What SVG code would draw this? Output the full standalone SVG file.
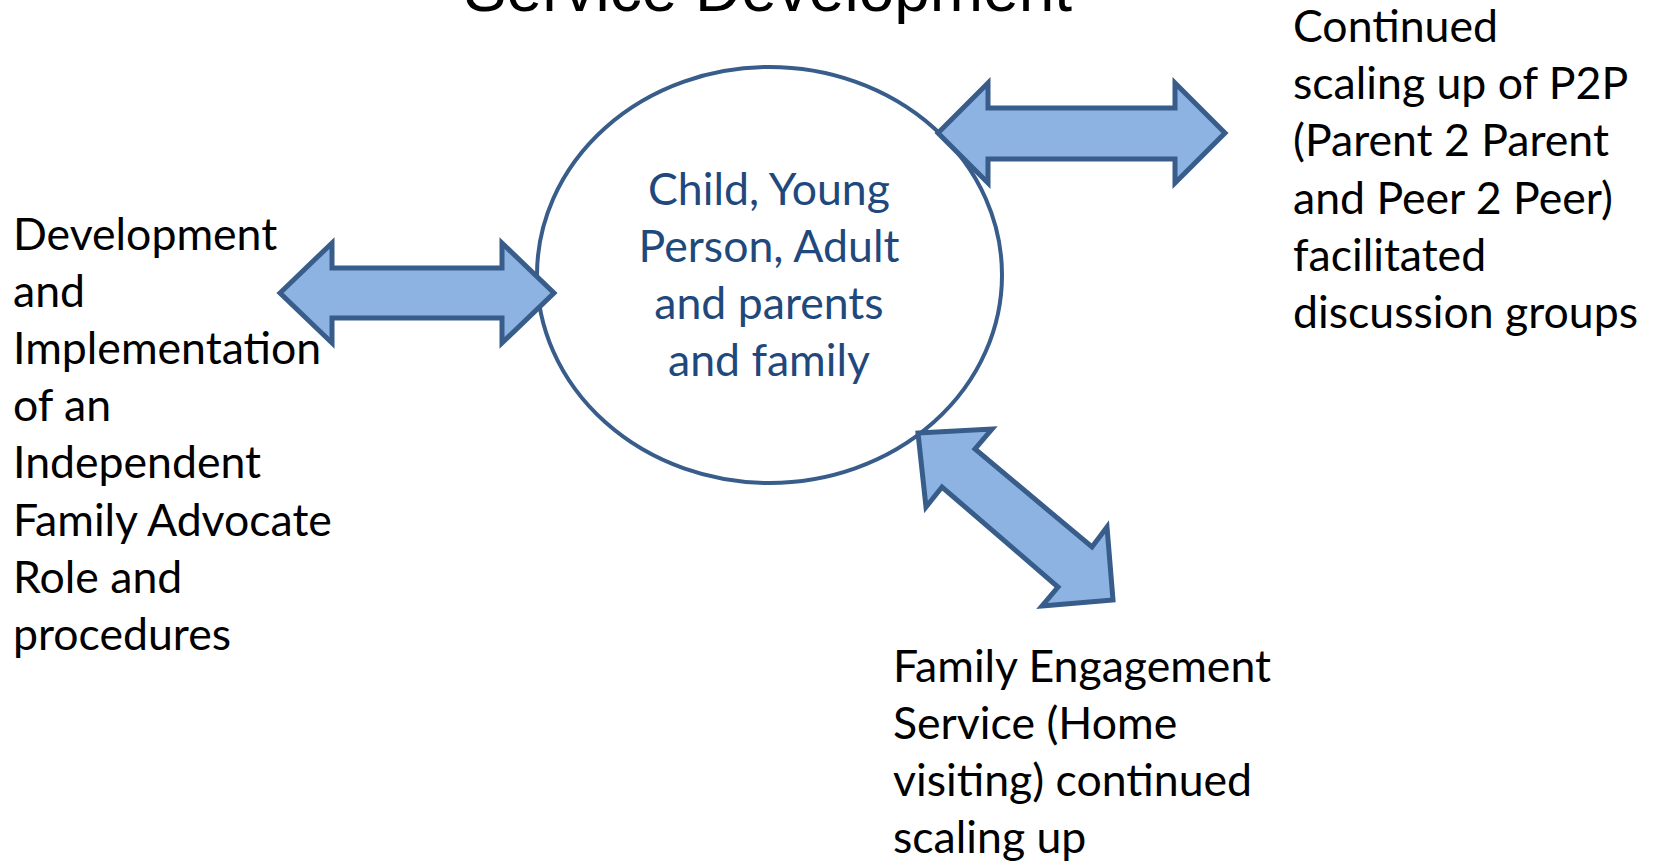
<svg xmlns="http://www.w3.org/2000/svg" width="1654" height="863" viewBox="0 0 1654 863">
<style>
.lbl{font-family:Lato,"Open Sans","Noto Sans",sans-serif;font-size:44.6px;fill:#000}
.ctr{font-family:Lato,"Open Sans","Noto Sans",sans-serif;font-size:44.6px;fill:#1F497D;text-anchor:middle}
.ttl{font-family:"Liberation Sans",Arial,sans-serif;font-size:64px;fill:#000;text-anchor:middle}
.arr{fill:#8DB3E2;stroke:#385D8A;stroke-width:5;stroke-linejoin:miter}
.node{fill:#FFFFFF;stroke:#385D8A;stroke-width:4}
</style>
<rect width="1654" height="863" fill="#FFFFFF"/>
<g id="title"><text class="ttl" x="768" y="11">Service Development</text></g>
<g id="center-node">
<ellipse class="node" cx="769.5" cy="275" rx="232.5" ry="208"/>
<text class="ctr" x="769" y="205">Child, Young</text>
<text class="ctr" x="769" y="262">Person, Adult</text>
<text class="ctr" x="769" y="319">and parents</text>
<text class="ctr" x="769" y="376">and family</text>
</g>
<g id="connectors">
<polygon class="arr" points="280,293 332,243 332,268 502,268 502,243 554,293 502,343 502,318 332,318 332,343"/>
<polygon class="arr" points="938,133 988,83 988,108 1175,108 1175,83 1225,133 1175,183 1175,159 988,159 988,183"/>
<polygon class="arr" points="918,433 992,429 975,449 1092,547 1107,527 1113,600 1042,606 1058,587 942,487 926,507"/>
</g>
<g id="node-left">
<text class="lbl" x="13" y="250">Development</text>
<text class="lbl" x="13" y="307">and</text>
<text class="lbl" x="13" y="364">Implementation</text>
<text class="lbl" x="13" y="421">of an</text>
<text class="lbl" x="13" y="478">Independent</text>
<text class="lbl" x="13" y="536">Family Advocate</text>
<text class="lbl" x="13" y="593">Role and</text>
<text class="lbl" x="13" y="650">procedures</text>
</g>
<g id="node-right">
<text class="lbl" x="1293" y="42">Continued</text>
<text class="lbl" x="1293" y="99">scaling up of P2P</text>
<text class="lbl" x="1293" y="156">(Parent 2 Parent</text>
<text class="lbl" x="1293" y="214">and Peer 2 Peer)</text>
<text class="lbl" x="1293" y="271">facilitated</text>
<text class="lbl" x="1293" y="328">discussion groups</text>
</g>
<g id="node-bottom">
<text class="lbl" x="893" y="682">Family Engagement</text>
<text class="lbl" x="893" y="739">Service (Home</text>
<text class="lbl" x="893" y="796">visiting) continued</text>
<text class="lbl" x="893" y="853">scaling up</text>
</g>
</svg>
